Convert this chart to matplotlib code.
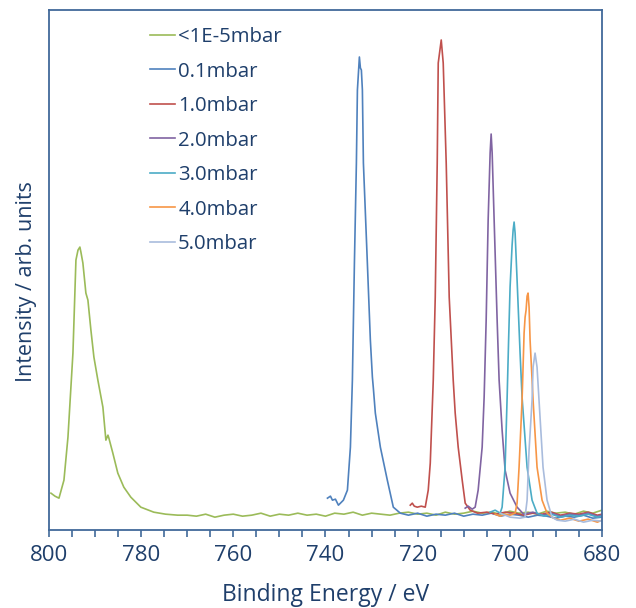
import matplotlib
matplotlib.use('Agg')
import matplotlib.pyplot as plt
from matplotlib.ticker import MultipleLocator

# values (binding energy in eV, intensity in arb. units)
labels = ['<1E-5mbar', '0.1mbar', '1.0mbar', '2.0mbar', '3.0mbar', '4.0mbar', '5.0mbar']
colors = ['#9BBB59', '#4F81BD', '#C0504D', '#8064A2', '#4BACC6', '#F79646', '#A9BCDD']

e_uhv = [799.57, 798.7, 797.83, 796.75, 795.88, 794.8, 794.15, 793.7, 793.29, 793.07, 792.64,
         791.99, 791.55, 790.9, 790.25, 789.39, 788.3, 787.65, 787.2, 787.0, 786.14, 785.06,
         783.76, 782.24, 780.07, 777.26, 774.7, 772.06,
         770, 768, 766, 764, 762, 760, 758, 756, 754, 752, 750, 748, 746, 744, 742, 740, 738,
         736, 734, 732, 730, 728, 726, 724, 722, 720, 718, 716, 714, 712, 710, 708, 706, 704,
         702, 700, 698, 696, 694, 692, 690, 688, 686, 684, 682, 680]
i_uhv = [3.7, 3.4, 3.2, 5.0, 9.3, 17.7, 27.0, 28.0, 28.3, 27.8, 26.7,
         23.7, 23.0, 20.0, 17.3, 15.0, 12.3, 9.0, 9.5, 9.2, 7.7, 5.7,
         4.3, 3.3, 2.3, 1.8, 1.6, 1.5,
         1.5, 1.4, 1.6, 1.3, 1.5, 1.6, 1.4, 1.5, 1.7, 1.4, 1.6, 1.5, 1.7, 1.5, 1.6, 1.4, 1.7,
         1.6, 1.8, 1.5, 1.7, 1.6, 1.5, 1.7, 1.8, 1.6, 1.7, 1.5, 1.8, 1.6, 1.7, 1.9, 1.7, 1.8,
         1.6, 1.9, 1.7, 1.8, 1.6, 1.9, 1.7, 1.8, 1.6, 1.9, 1.7, 2.0]

e_01 = [739.57, 738.92, 738.49, 737.84, 737.19, 736.54, 736.11, 735.24, 734.59, 734.16, 733.72,
        733.29, 733.07, 732.64, 732.42, 732.21, 731.99, 731.77, 730.91, 730.26, 729.82, 729.61,
        729.18, 728.09, 726.58, 725.28, 723.76,
        722, 720, 718, 716, 714, 712, 710, 708, 706, 704, 702, 700, 698, 696, 694, 692, 690,
        688, 686, 684, 682, 680]
i_01 = [3.2, 3.4, 3.0, 3.1, 2.5, 2.8, 3.0, 4.0, 8.3, 15.0, 26.7,
        36.7, 44.0, 47.3, 46.2, 46.0, 44.0, 36.7, 26.7, 19.0, 15.3, 14.2,
        11.7, 8.3, 5.0, 2.3, 1.7,
        1.5, 1.7, 1.4, 1.6, 1.5, 1.7, 1.4, 1.6, 1.5, 1.7, 1.4, 1.6, 1.5, 1.3, 1.5, 1.4, 1.2,
        1.4, 1.3, 1.5, 1.2, 1.3]

e_10 = [721.6, 721.16, 720.73, 720.08, 719.21, 718.35, 717.7, 717.26, 716.61, 716.18, 715.75,
        715.53, 714.88, 714.45, 713.8, 713.15, 712.28, 711.85, 711.2, 710.33, 709.68, 708.6,
        707, 705, 703, 701, 699, 697, 695, 693, 691, 689, 687, 685, 683, 681, 680]
i_10 = [2.5, 2.7, 2.4, 2.3, 2.4, 2.3, 4.0, 6.7, 15.0, 23.3, 36.7,
        46.7, 49.0, 46.7, 36.7, 23.3, 15.0, 11.7, 8.3, 5.0, 2.7, 2.0,
        1.7, 1.8, 1.6, 1.8, 1.7, 1.5, 1.7, 1.6, 1.8, 1.5, 1.7, 1.6, 1.8, 1.5, 1.6]

e_20 = [709.68, 709.03, 708.17, 707.52, 706.87, 706.0, 705.57, 705.13, 704.7, 704.27, 704.05,
        703.83, 703.4, 702.75, 702.32, 702.1, 701.67, 701.02, 699.94, 698.42,
        697, 695, 693, 691, 689, 687, 685, 683, 681, 680]
i_20 = [2.2, 2.4, 2.1, 2.3, 4.0, 8.3, 13.3, 21.0, 31.0, 37.7, 39.6,
        37.7, 31.0, 21.0, 15.0, 13.3, 10.0, 6.0, 3.7, 2.3,
        1.6, 1.8, 1.5, 1.7, 1.4, 1.6, 1.5, 1.7, 1.4, 1.5]

e_30 = [704.27, 703.18, 702.1, 701.67, 701.02, 700.58, 700.26, 699.94, 699.5, 699.28, 699.07,
        698.85, 698.42, 697.77, 697.34, 696.25, 695.17, 694.09,
        692.5, 691, 689, 687, 685, 683, 681, 680]
i_30 = [1.8, 2.0, 1.7, 2.3, 6.3, 13.3, 19.0, 24.3, 28.5, 30.0, 30.8,
        29.7, 25.0, 17.7, 13.3, 6.3, 3.0, 1.7,
        1.4, 1.6, 1.3, 1.5, 1.4, 1.6, 1.3, 1.4]

e_40 = [703.18, 702.1, 701.02, 699.94, 698.85, 698.42, 697.99, 697.34, 696.9, 696.68, 696.47,
        696.25, 696.04, 695.82, 695.6, 694.95, 694.09, 693.0, 691.92,
        690.5, 689, 687, 685, 683, 681, 680]
i_40 = [1.6, 1.4, 1.6, 1.5, 1.7, 2.7, 6.3, 13.0, 19.7, 21.3, 22.0,
        23.4, 23.7, 22.3, 19.0, 13.0, 6.3, 3.0, 1.7,
        1.2, 1.0, 1.2, 0.9, 1.1, 0.8, 1.0]

e_50 = [702.1, 699.94, 697.77, 696.69, 696.25, 695.82, 695.17, 694.95, 694.52, 694.09, 693.44,
        692.79, 691.92, 690.84, 689.75, 688, 686, 684, 682, 680]
i_50 = [1.7, 1.3, 1.2, 1.3, 3.0, 8.0, 13.0, 16.3, 17.7, 16.3, 11.3,
        6.3, 3.0, 1.3, 1.0, 0.9, 1.1, 0.8, 1.0, 0.9]

energies = [e_uhv, e_01, e_10, e_20, e_30, e_40, e_50]
intensities = [i_uhv, i_01, i_10, i_20, i_30, i_40, i_50]

text_col = '#1F3F6B'
spine_col = '#41699A'

plt.rcParams['font.family'] = ['Open Sans', 'DejaVu Sans']

fig = plt.figure(figsize=(6.36, 6.08), dpi=100)
ax = fig.add_axes([0.077, 0.128, 0.8695, 0.8556])

for e, i, c, lab in zip(energies, intensities, colors, labels):
    ax.plot(e, i, color=c, lw=1.2, label=lab)

ax.set_xlim(800, 680)
ax.set_ylim(0, 52)
ax.xaxis.set_major_locator(MultipleLocator(20))
ax.xaxis.set_minor_locator(MultipleLocator(5))
ax.tick_params(axis='x', which='both', direction='out', length=5, width=1.2,
               colors=spine_col, labelcolor=text_col, labelsize=16, pad=6)
ax.tick_params(axis='y', left=False, labelleft=False)
for s in ax.spines.values():
    s.set_color(spine_col)
    s.set_linewidth(1.3)

ax.set_xlabel('Binding Energy / eV', fontsize=16.5, color=text_col, labelpad=12)
ax.set_ylabel('Intensity / arb. units', fontsize=15.5, color=text_col)
ax.yaxis.set_label_coords(-0.021, 0.477)

leg = ax.legend(loc='upper left', bbox_to_anchor=(0.183, 0.967), frameon=False,
                borderpad=0, borderaxespad=0,
                fontsize=14.7, handlelength=1.22, handletextpad=0.15, labelspacing=0.71)
for t in leg.get_texts():
    t.set_color(text_col)

fig.savefig('out.png', dpi=100)
